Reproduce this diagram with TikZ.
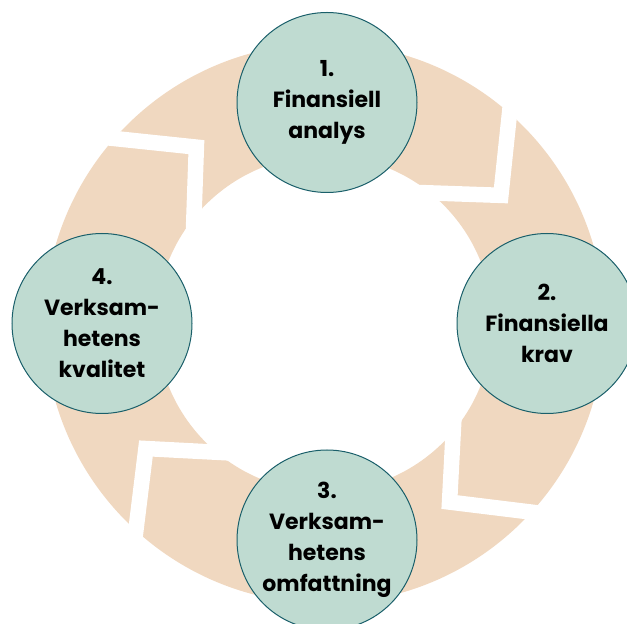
\documentclass[tikz,border=0pt]{standalone}
\usepackage{fontspec}
\setmainfont{Poppins}
\definecolor{peach}{HTML}{F0D8C0}
\definecolor{mint}{HTML}{BFDBD1}
\definecolor{rim}{HTML}{1A5F6A}
\def\cx{324.5}
\def\cy{300.5}
\tikzset{
  stage/.style={circle, draw=rim, fill=mint, line width=1pt, minimum size=180pt,
    inner sep=0pt, align=center, font=\bfseries\fontsize{22}{31}\selectfont},
  gap/.style={white, line width=15.5pt, line join=miter, miter limit=10}
}

\begin{document}
\begin{tikzpicture}[x=1pt,y=1pt]
\useasboundingbox (0,0) rectangle (627,624);
\fill[peach, even odd rule] (\cx,\cy) circle (280) (\cx,\cy) circle (168);
\begin{scope}[shift={(\cx,\cy)}]
\draw[gap] ([shift={(84:120)}]36:218) -- (36:218) -- ([shift={(178:140)}]36:218);
\draw[gap] ([shift={(174:120)}]126:218) -- (126:218) -- ([shift={(268:140)}]126:218);
\draw[gap] ([shift={(263:120)}]215:218) -- (215:218) -- ([shift={(357:140)}]215:218);
\draw[gap] ([shift={(353:120)}]305:218) -- (305:218) -- ([shift={(87:140)}]305:218);
\end{scope}
\node [stage] (analys) at (327,521.5) {1.\\Finansiell\\analys};
\node [stage] (krav) at (547,300.5) {2.\\Finansiella\\krav};
\node [stage] (omfattning) at (327,84) {3.\\Verksam-\\hetens\\omfattning};
\node [stage] (kvalitet) at (102,300.5) {4.\\Verksam-\\hetens\\kvalitet};
\end{tikzpicture}
\end{document}
